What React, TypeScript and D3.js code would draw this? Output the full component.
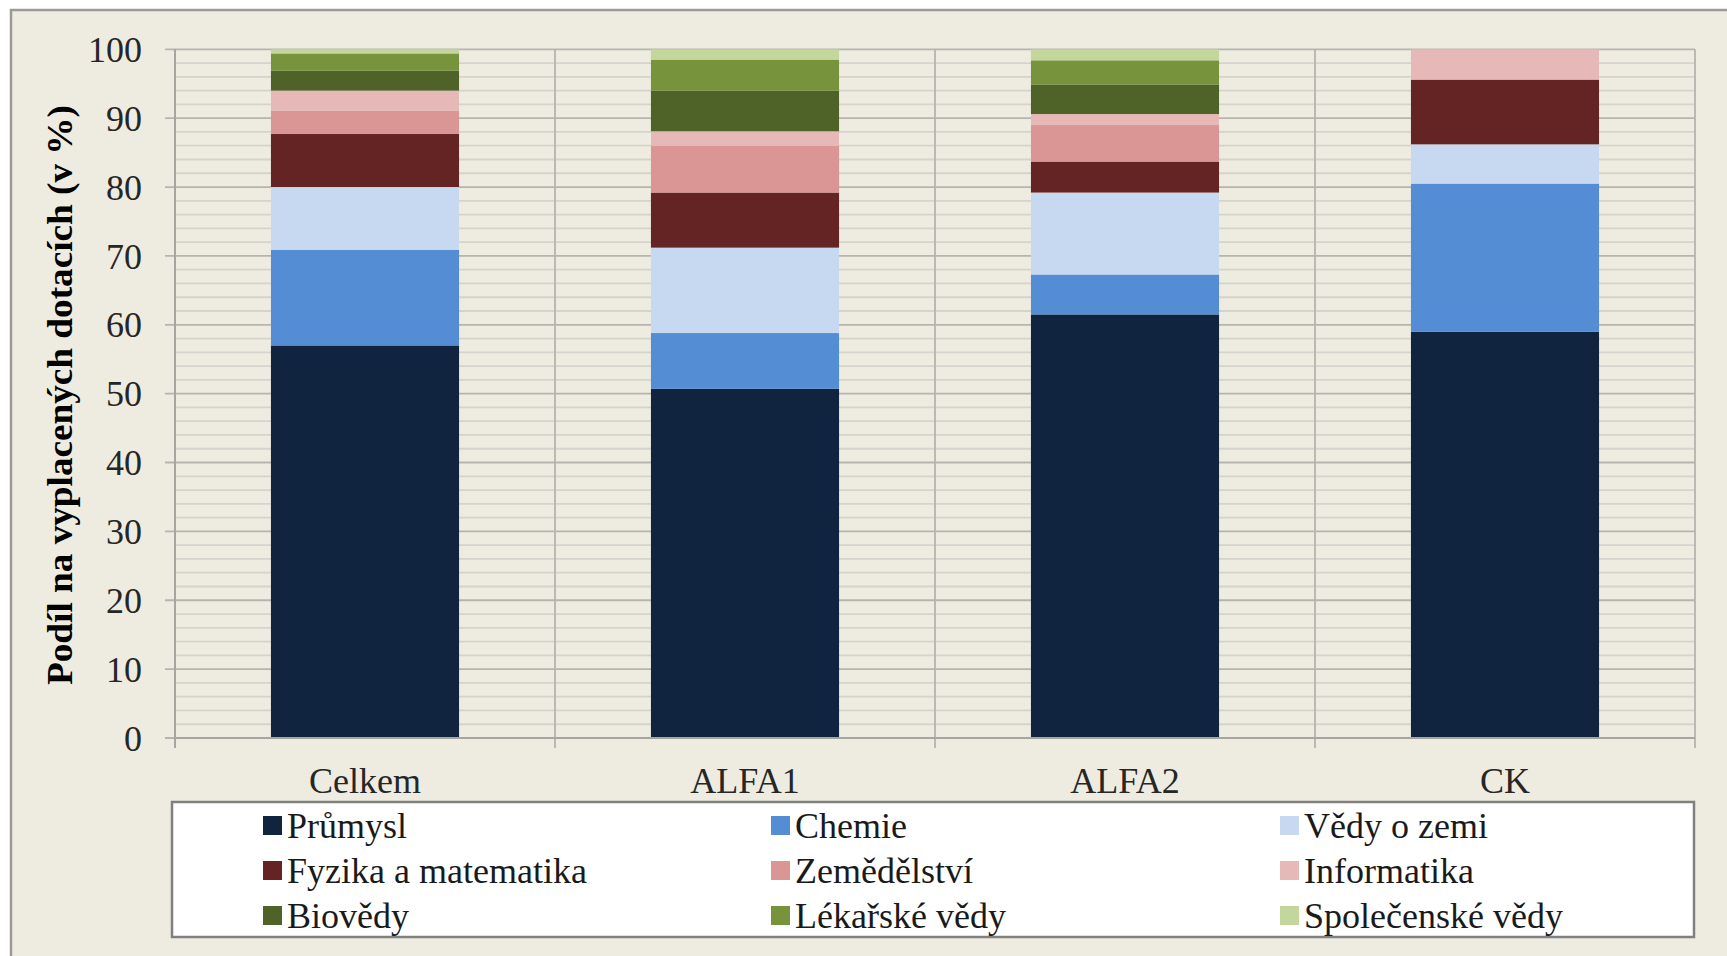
import * as d3 from 'd3';

const categories = ['Celkem', 'ALFA1', 'ALFA2', 'CK'];
const seriesNames = [
  'Průmysl',
  'Chemie',
  'Vědy o zemi',
  'Fyzika a matematika',
  'Zemědělství',
  'Informatika',
  'Biovědy',
  'Lékařské vědy',
  'Společenské vědy',
];
const seriesColors = ['#10233F', '#548DD4', '#C6D9F1', '#632423', '#D99694', '#E6B9B8', '#4F6228', '#77933C', '#C3D69B'];

// one array per category, in series order (bottom to top)
const celkem = [57.0, 13.9, 9.1, 7.7, 3.4, 2.9, 2.9, 2.5, 0.6];
const alfa1 = [50.7, 8.1, 12.4, 8.0, 6.8, 2.1, 5.9, 4.5, 1.5];
const alfa2 = [61.5, 5.8, 11.9, 4.5, 5.3, 1.6, 4.3, 3.5, 1.6];
const ck = [59.0, 21.5, 5.7, 9.4, 0, 4.4, 0, 0, 0];
const yTicks = [0, 10, 20, 30, 40, 50, 60, 70, 80, 90, 100];

const W = 1727;
const H = 956;
const plot = { left: 175, right: 1695, top: 49.3, bottom: 738 };
const FONT = '"Liberation Serif", "Times New Roman", serif';

export default function App() {
  const rows = [celkem, alfa1, alfa2, ck].map((vals, i) => {
    const r: Record<string, any> = { cat: categories[i] };
    seriesNames.forEach((s, j) => (r[s] = vals[j]));
    return r;
  });
  const stacked = d3.stack<any>().keys(seriesNames)(rows);

  const x = d3.scaleBand().domain(categories).range([plot.left, plot.right]).paddingInner(0.505).paddingOuter(0.2525);
  const section = d3.scaleBand().domain(categories).range([plot.left, plot.right]);
  const y = d3.scaleLinear().domain([0, 100]).range([plot.bottom, plot.top]);
  const minor = d3.range(2, 100, 2).filter((v) => v % 10 !== 0);
  const boundaries = [...categories.map((c) => section(c)!), plot.right];

  const legendBox = { x: 172, y: 802, w: 1522, h: 135 };
  const legendCols = [263, 771, 1280];
  const legendRows = [825.5, 870.5, 915.5];

  return (
    <svg width={W} height={H} style={{ position: 'absolute', left: 0, top: 0 }} fontFamily={FONT}>
      <rect x={0} y={0} width={W} height={H} fill="#ffffff" />
      <rect x={11} y={10} width={W + 20} height={H + 20} fill="#EEECE1" stroke="#9a9a9a" strokeWidth={2.5} />

      {/* gridlines */}
      {minor.map((v) => (
        <line key={'m' + v} x1={plot.left} x2={plot.right} y1={y(v)} y2={y(v)} stroke="#D4D3CC" strokeWidth={1.8} />
      ))}
      {yTicks.map((v) => (
        <line key={'g' + v} x1={plot.left - 10} x2={plot.right} y1={y(v)} y2={y(v)} stroke="#B5B4AE" strokeWidth={1.8} />
      ))}
      {boundaries.map((bx, i) => (
        <line key={'v' + i} x1={bx} x2={bx} y1={plot.top} y2={plot.bottom + 10} stroke="#B5B4AE" strokeWidth={1.8} />
      ))}

      {/* bars */}
      {stacked.map((layer, si) => (
        <g key={layer.key} fill={seriesColors[si]}>
          {layer.map((d, ci) =>
            d[1] - d[0] > 0 ? (
              <rect key={ci} x={x(categories[ci])!} width={x.bandwidth()} y={y(d[1])} height={y(d[0]) - y(d[1])} />
            ) : null
          )}
        </g>
      ))}

      {/* axes */}
      <line x1={plot.left} x2={plot.left} y1={plot.top} y2={plot.bottom + 10} stroke="#A6A5A0" strokeWidth={2} />
      <line x1={plot.left} x2={plot.right} y1={plot.bottom} y2={plot.bottom} stroke="#A6A5A0" strokeWidth={2} />
      {yTicks.map((v) => (
        <text key={'t' + v} x={142} y={y(v)} dy="0.35em" textAnchor="end" fontSize={36} fill="#262626">
          {v}
        </text>
      ))}
      {categories.map((c) => (
        <text key={c} x={section(c)! + section.bandwidth() / 2} y={793} textAnchor="middle" fontSize={36} fill="#262626">
          {c}
        </text>
      ))}
      <text
        transform={`translate(72,395) rotate(-90)`}
        textAnchor="middle"
        fontSize={35}
        fontWeight="bold"
        textLength={580}
        lengthAdjust="spacingAndGlyphs"
        fill="#000"
      >
        Podíl na vyplacených dotacích (v %)
      </text>

      {/* legend */}
      <rect x={legendBox.x} y={legendBox.y} width={legendBox.w} height={legendBox.h} fill="#ffffff" stroke="#808080" strokeWidth={2.5} />
      {seriesNames.map((s, i) => {
        const cx = legendCols[i % 3];
        const cy = legendRows[Math.floor(i / 3)];
        return (
          <g key={s}>
            <rect x={cx} y={cy - 9.5} width={19} height={19} fill={seriesColors[i]} />
            <text x={cx + 24} y={cy} dy="0.35em" fontSize={36} fill="#1a1a1a">
              {s}
            </text>
          </g>
        );
      })}
    </svg>
  );
}
